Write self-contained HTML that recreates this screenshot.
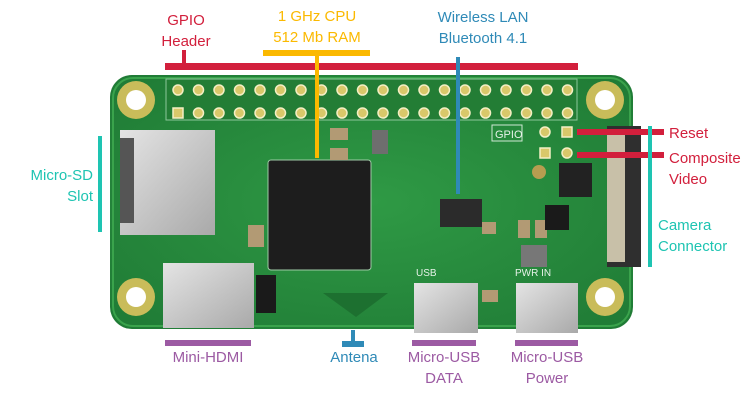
<!DOCTYPE html>
<html><head><meta charset="utf-8"><style>
html,body{margin:0;padding:0;background:#fff;width:750px;height:400px;overflow:hidden}
svg text{font-family:"Liberation Sans",sans-serif;font-size:15px}
</style></head><body>
<svg width="750" height="400" viewBox="0 0 750 400" xmlns="http://www.w3.org/2000/svg">
<defs>
<radialGradient id="bg" cx="50%" cy="50%" r="70%"><stop offset="0" stop-color="#2f9a45"/><stop offset="1" stop-color="#1f7a35"/></radialGradient>
<linearGradient id="sil" x1="0" y1="0" x2="1" y2="1"><stop offset="0" stop-color="#e4e4e4"/><stop offset="1" stop-color="#a9a9a9"/></linearGradient>
</defs>
<!-- board -->
<rect x="110" y="75" width="523" height="254" rx="22" fill="url(#bg)"/>
<rect x="113" y="78" width="517" height="248" rx="20" fill="none" stroke="#3aa34c" stroke-width="2"/>
<!-- holes -->
<g fill="#c9bc5a"><circle cx="136" cy="100" r="19"/><circle cx="605" cy="100" r="19"/><circle cx="136" cy="297" r="19"/><circle cx="605" cy="297" r="19"/></g>
<g fill="#fff"><circle cx="136" cy="100" r="10"/><circle cx="605" cy="100" r="10"/><circle cx="136" cy="297" r="10"/><circle cx="605" cy="297" r="10"/></g>
<!-- header -->
<rect x="166" y="79" width="411" height="41" fill="#237d35" stroke="#8cc79a" stroke-width="1"/>
<g fill="#d9c86a" stroke="#f4efc4" stroke-width="1.5">
<circle cx="178" cy="90" r="5"/><circle cx="198.5" cy="90" r="5"/><circle cx="219" cy="90" r="5"/><circle cx="239.5" cy="90" r="5"/><circle cx="260" cy="90" r="5"/><circle cx="280.5" cy="90" r="5"/><circle cx="301" cy="90" r="5"/><circle cx="321.5" cy="90" r="5"/><circle cx="342" cy="90" r="5"/><circle cx="362.5" cy="90" r="5"/><circle cx="383" cy="90" r="5"/><circle cx="403.5" cy="90" r="5"/><circle cx="424" cy="90" r="5"/><circle cx="444.5" cy="90" r="5"/><circle cx="465" cy="90" r="5"/><circle cx="485.5" cy="90" r="5"/><circle cx="506" cy="90" r="5"/><circle cx="526.5" cy="90" r="5"/><circle cx="547" cy="90" r="5"/><circle cx="567.5" cy="90" r="5"/>
<rect x="173" y="108" width="10" height="10"/><circle cx="198.5" cy="113" r="5"/><circle cx="219" cy="113" r="5"/><circle cx="239.5" cy="113" r="5"/><circle cx="260" cy="113" r="5"/><circle cx="280.5" cy="113" r="5"/><circle cx="301" cy="113" r="5"/><circle cx="321.5" cy="113" r="5"/><circle cx="342" cy="113" r="5"/><circle cx="362.5" cy="113" r="5"/><circle cx="383" cy="113" r="5"/><circle cx="403.5" cy="113" r="5"/><circle cx="424" cy="113" r="5"/><circle cx="444.5" cy="113" r="5"/><circle cx="465" cy="113" r="5"/><circle cx="485.5" cy="113" r="5"/><circle cx="506" cy="113" r="5"/><circle cx="526.5" cy="113" r="5"/><circle cx="547" cy="113" r="5"/><circle cx="567.5" cy="113" r="5"/>
<circle cx="545" cy="132" r="5"/><rect x="562" y="127" width="10" height="10"/><rect x="540" y="148" width="10" height="10"/><circle cx="567" cy="153" r="5"/>
</g>
<rect x="492" y="125" width="30" height="16" fill="none" stroke="#cfe8d4"/><text x="495" y="138" fill="#e6f2e8" style="font-size:11px">GPIO</text>
<!-- SD slot -->
<rect x="120" y="130" width="95" height="105" fill="url(#sil)"/>
<rect x="120" y="138" width="14" height="85" fill="#555"/>
<!-- CPU -->
<rect x="268" y="160" width="103" height="110" rx="3" fill="#1d1d1d" stroke="#9fcba6"/>
<!-- smd parts -->
<g fill="#b29a74"><rect x="330" y="128" width="18" height="12"/><rect x="330" y="148" width="18" height="12"/><rect x="248" y="225" width="16" height="22"/><rect x="482" y="222" width="14" height="12"/><rect x="518" y="220" width="12" height="18"/><rect x="535" y="220" width="12" height="18"/><rect x="482" y="290" width="16" height="12"/></g>
<rect x="372" y="130" width="16" height="24" fill="#6e6e6e"/>
<rect x="440" y="199" width="42" height="28" fill="#2b2b2b"/>
<rect x="559" y="163" width="33" height="34" fill="#222"/>
<rect x="545" y="205" width="24" height="25" fill="#1a1a1a"/>
<rect x="521" y="245" width="26" height="22" fill="#777"/>
<circle cx="539" cy="172" r="7" fill="#b79d50"/>
<!-- camera connector -->
<rect x="607" y="126" width="34" height="141" fill="#2f2f2f"/>
<rect x="607" y="132" width="18" height="130" fill="#c8c0a8"/>
<!-- HDMI -->
<rect x="163" y="263" width="91" height="65" fill="url(#sil)"/>
<rect x="256" y="275" width="20" height="38" fill="#1a1a1a"/>
<!-- antenna -->
<polygon points="323,293 388,293 356,317" fill="#1d7030"/>
<!-- USBs -->
<rect x="414" y="283" width="64" height="50" fill="url(#sil)"/>
<rect x="516" y="283" width="62" height="50" fill="url(#sil)"/>
<text x="416" y="276" fill="#e6f2e8" style="font-size:10px">USB</text>
<text x="515" y="276" fill="#e6f2e8" style="font-size:10px">PWR  IN</text>
<!-- callouts -->
<g fill="#d21f3c">
<rect x="165" y="63" width="413" height="7"/><rect x="182" y="50" width="4" height="13"/>
<rect x="577" y="129" width="87" height="6"/><rect x="577" y="152" width="87" height="6"/>
</g>
<rect x="263" y="50" width="107" height="6" fill="#fbb900"/><rect x="315" y="50" width="4" height="108" fill="#fbb900"/>
<rect x="456" y="57" width="4" height="137" fill="#2f8ab7"/>
<rect x="342" y="341" width="22" height="6" fill="#2f8ab7"/><rect x="351" y="330" width="4" height="12" fill="#2f8ab7"/>
<rect x="98" y="136" width="4" height="96" fill="#1ec4b2"/>
<rect x="648" y="126" width="4" height="141" fill="#1ec4b2"/>
<g fill="#9c5aa3"><rect x="165" y="340" width="86" height="6"/><rect x="412" y="340" width="64" height="6"/><rect x="515" y="340" width="63" height="6"/></g>
<!-- labels -->
<g text-anchor="middle">
<text x="186" y="25" fill="#d21f3c">GPIO</text><text x="186" y="46" fill="#d21f3c">Header</text>
<text x="317" y="21" fill="#fbb900">1 GHz CPU</text><text x="317" y="42" fill="#fbb900">512 Mb RAM</text>
<text x="483" y="22" fill="#2f8ab7">Wireless LAN</text><text x="483" y="43" fill="#2f8ab7">Bluetooth 4.1</text>
<text x="208" y="362" fill="#9c5aa3">Mini-HDMI</text>
<text x="354" y="362" fill="#2f8ab7">Antena</text>
<text x="444" y="362" fill="#9c5aa3">Micro-USB</text><text x="444" y="383" fill="#9c5aa3">DATA</text>
<text x="547" y="362" fill="#9c5aa3">Micro-USB</text><text x="547" y="383" fill="#9c5aa3">Power</text>
</g>
<g text-anchor="end"><text x="93" y="180" fill="#1ec4b2">Micro-SD</text><text x="93" y="201" fill="#1ec4b2">Slot</text></g>
<text x="669" y="138" fill="#d21f3c">Reset</text>
<text x="669" y="163" fill="#d21f3c">Composite</text><text x="669" y="184" fill="#d21f3c">Video</text>
<text x="658" y="230" fill="#1ec4b2">Camera</text><text x="658" y="251" fill="#1ec4b2">Connector</text>
</svg>
</body></html>
